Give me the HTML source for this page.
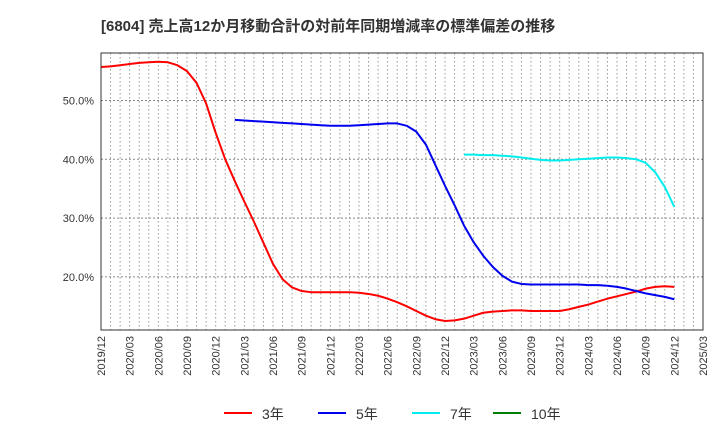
<!DOCTYPE html>
<html><head><meta charset="utf-8"><style>
body{margin:0;background:#fff;font-family:"Liberation Sans","Noto Sans CJK JP",sans-serif}
</style></head><body>
<svg width="720" height="440" xmlns="http://www.w3.org/2000/svg" font-family="Liberation Sans, Noto Sans CJK JP, sans-serif">
<text x="101" y="31" font-size="15" font-weight="bold" fill="#333">[6804]  売上高12か月移動合計の対前年同期増減率の標準偏差の推移</text>
<g id="grid"></g>
<g id="series"></g>
<rect x="101" y="53" width="602" height="277" fill="none" stroke="#333" stroke-width="1"/>
<g id="axes"></g>
<g id="legend"></g>
</svg>
<script>
const yTicks=[20,30,40,50];
const xTickLabels=["2019/12","2020/03","2020/06","2020/09","2020/12","2021/03","2021/06","2021/09","2021/12","2022/03","2022/06","2022/09","2022/12","2023/03","2023/06","2023/09","2023/12","2024/03","2024/06","2024/09","2024/12","2025/03"];
const s3Start=0;
const s3=[55.7,55.8,56.0,56.2,56.4,56.5,56.6,56.5,56.0,55.0,53.0,49.5,44.5,40.0,36.3,32.8,29.4,25.8,22.2,19.6,18.2,17.6,17.4,17.4,17.4,17.4,17.4,17.3,17.1,16.8,16.3,15.7,15.0,14.2,13.4,12.8,12.5,12.6,12.9,13.4,13.9,14.1,14.2,14.3,14.3,14.2,14.2,14.2,14.2,14.5,14.9,15.3,15.8,16.3,16.7,17.1,17.5,18.0,18.3,18.4,18.3];
const s5Start=14;
const s5=[46.7,46.6,46.5,46.4,46.3,46.2,46.1,46.0,45.9,45.8,45.7,45.7,45.7,45.8,45.9,46.0,46.1,46.1,45.7,44.7,42.5,39.0,35.5,32.2,28.7,25.9,23.6,21.7,20.2,19.2,18.8,18.7,18.7,18.7,18.7,18.7,18.7,18.6,18.6,18.5,18.3,18.0,17.6,17.2,16.9,16.6,16.2];
const s7Start=38;
const s7=[40.8,40.8,40.7,40.7,40.6,40.5,40.3,40.1,39.9,39.8,39.8,39.9,40.0,40.1,40.2,40.3,40.3,40.2,40.0,39.4,37.8,35.3,31.9];
const s10=[];
const X0=101,MW=602/63;
const xs=i=>X0+i*MW;
const ys=v=>100.5-(v-50)*5.88;
const NS="http://www.w3.org/2000/svg";
function mk(t,a,p){const e=document.createElementNS(NS,t);for(const k in a)e.setAttribute(k,a[k]);p.appendChild(e);return e;}
const grid=document.getElementById('grid'),axes=document.getElementById('axes'),ser=document.getElementById('series'),leg=document.getElementById('legend');
for(let i=1;i<63;i++){const l=mk('line',{x1:xs(i),x2:xs(i),y1:53,y2:330,stroke:'#999','stroke-dasharray':'1.5,2.5','stroke-width':1},grid);

}
yTicks.forEach(v=>{const l=mk('line',{x1:101,x2:703,y1:ys(v),y2:ys(v),stroke:'#888','stroke-dasharray':'2,2','stroke-width':1},grid);


const t=mk('text',{x:94,y:ys(v)+4,'text-anchor':'end','font-size':11,fill:'#333'},axes);t.textContent=v.toFixed(1)+'%';

});
xTickLabels.forEach((s,i)=>{const x=xs(i*3);const t=mk('text',{x:0,y:0,transform:`translate(${x+4},336) rotate(-90)`,'text-anchor':'end','font-size':11,fill:'#333'},axes);t.textContent=s;

});
function line(arr,start,color,name){if(!arr.length)return;const p=mk('polyline',{points:arr.map((v,i)=>xs(start+i)+','+ys(v)).join(' '),fill:'none',stroke:color,'stroke-width':2,'stroke-linejoin':'round'},ser);

}
line(s3,s3Start,'#ff0000','series-3y');
line(s5,s5Start,'#0000ee','series-5y');
line(s7,s7Start,'#00eeee','series-7y');
line(s10,0,'#008000','series-10y');
const legItems=[['3年','#ff0000',224],['5年','#0000ee',318],['7年','#00eeee',412],['10年','#008000',493]];
legItems.forEach(([lab,c,x])=>{const g=mk('g',{},leg);


mk('line',{x1:x,x2:x+28,y1:413,y2:413,stroke:c,'stroke-width':2},g);
const t=mk('text',{x:x+38,y:419,'font-size':14,fill:'#333'},g);t.textContent=lab;});
</script>
</body></html>
